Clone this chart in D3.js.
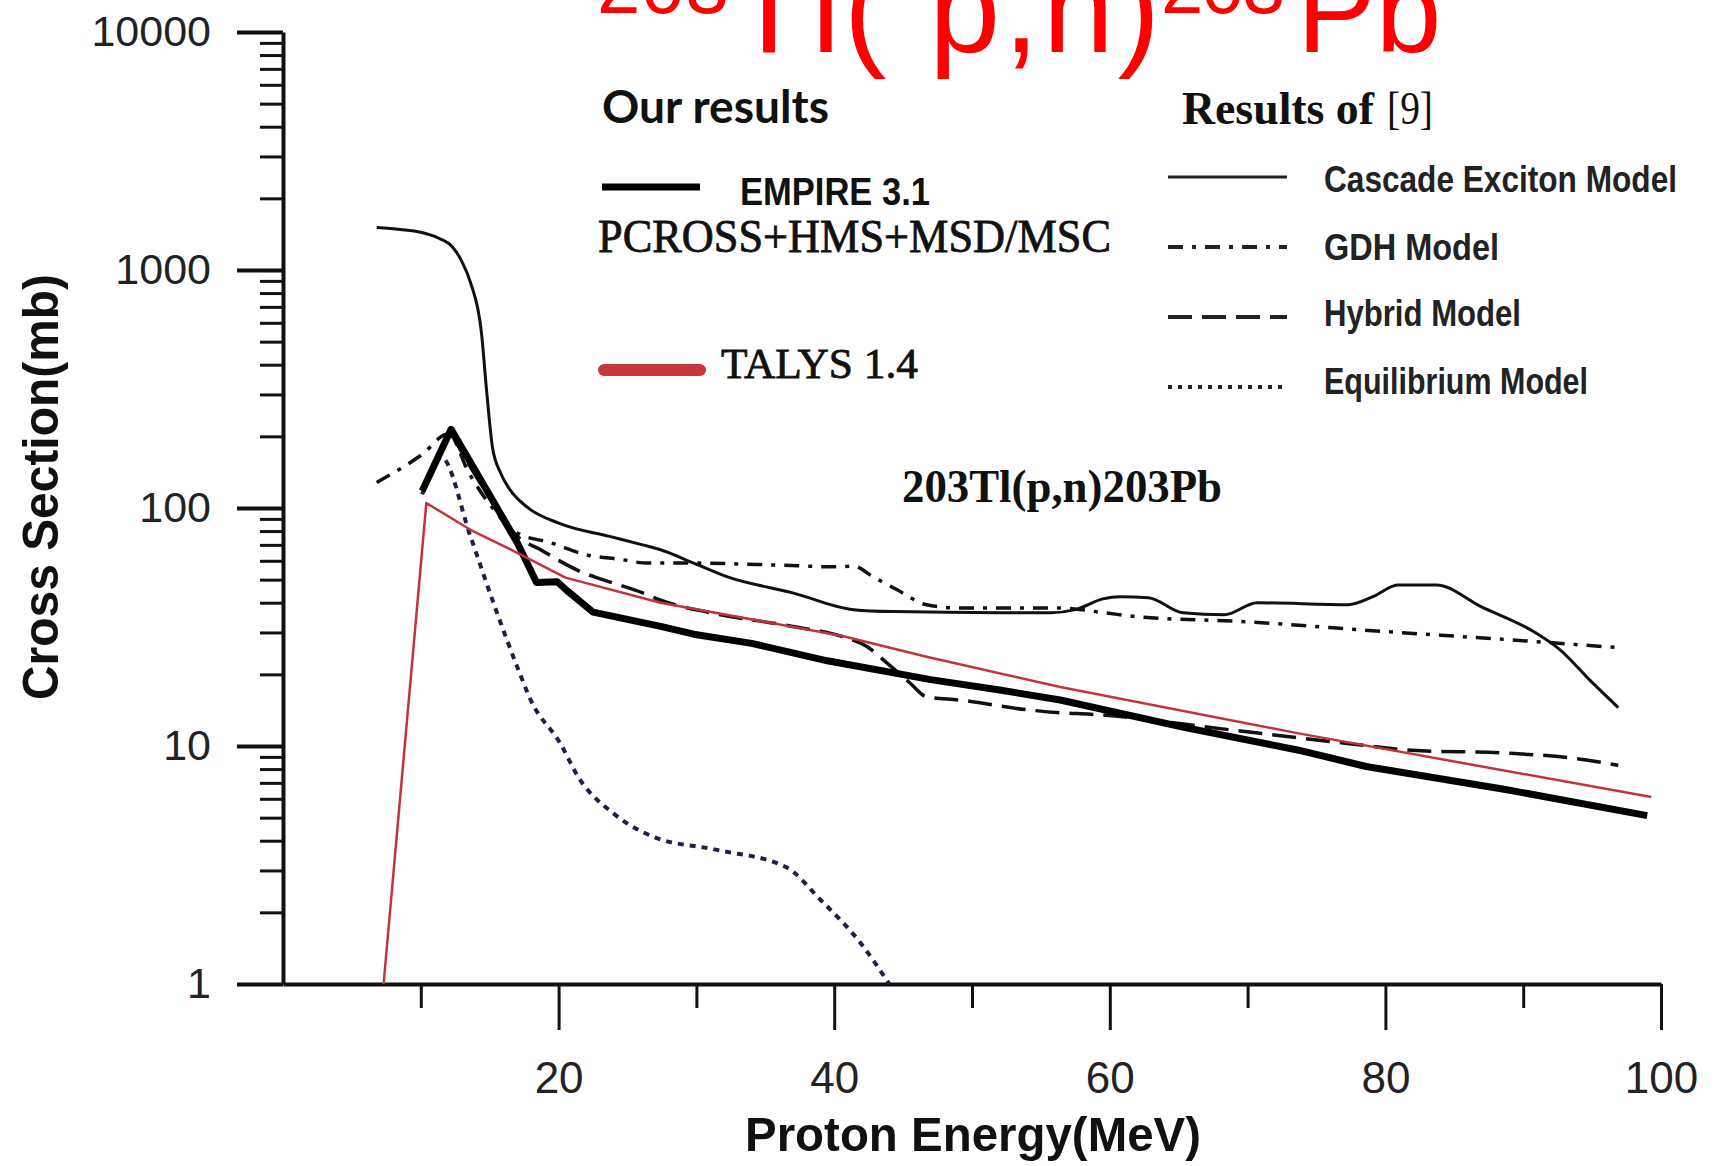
<!DOCTYPE html>
<html><head><meta charset="utf-8">
<script src="https://cdn.jsdelivr.net/npm/d3@7"></script>
<style>body{margin:0;background:#fff} svg{display:block}</style>
</head><body>
<script>
// ---- data (Proton energy MeV, cross section mb) ----
const xTickMajor = [20, 40, 60, 80, 100];
const xTickMinor = [10, 30, 50, 70, 90];
const yTickMajor = [1, 10, 100, 1000, 10000];
const yTickLabels = ["1", "10", "100", "1000", "10000"];

const empireE = [10.1, 12.2, 15.2, 17, 18.4, 19.9, 20.6, 22.5, 27.4, 29.8, 34, 39.5, 47, 52, 56.4, 65.3, 73.7, 78.6, 88.5, 99];
const empireV = [118, 214, 108, 71.5, 48.6, 49, 45, 36.5, 31.8, 29.5, 27, 22.8, 19, 17.2, 15.6, 12.0, 9.6, 8.2, 6.6, 5.1];

const talysE = [7.3, 10.4, 13.6, 16.5, 20.5, 27.4, 40.6, 46.7, 56.4, 73.7, 99.3];
const talysV = [1, 105, 81, 67, 51, 40, 29, 23.7, 17.7, 11.3, 6.1];

const cascadeE = [6.8, 8.5, 10, 11.3, 12.3, 13.0, 13.6, 14.4, 14.8, 15.2, 15.8, 16.4, 17.7, 20.1, 23.7, 26.1, 27.4, 29.8, 32.2, 37, 41.4, 44.3, 52, 55.7, 57.5, 59.5, 60.7, 62.8, 65.3, 68.3, 70.7, 77.3, 79.1, 80.9, 83.7, 86.9, 90.9, 92.7, 94.8, 96.9];
const cascadeV = [1510, 1480, 1440, 1360, 1250, 1080, 888, 546, 300, 180, 140, 121, 101, 86, 76, 70, 66.8, 58.7, 51.5, 44, 37.4, 36.7, 36.3, 36.3, 37.4, 41.5, 42.4, 42, 36.3, 35.6, 40, 39.2, 42.4, 47.5, 47.5, 38.6, 29.9, 25.3, 19, 14.5];

const gdhE = [6.8, 10.1, 12.0, 13.5, 15.2, 17, 19.4, 22, 24.5, 26.4, 29.3, 35.8, 40.1, 41.4, 42.8, 44.6, 46.7, 49.1, 56.4, 59.6, 62, 69.8, 79.8, 88.8, 96.9];
const gdhV = [128, 168, 205, 140, 100, 78.6, 71.5, 63.6, 60.8, 58.7, 58.7, 57.6, 56.6, 57, 51.5, 45.2, 39.2, 38, 38, 36.3, 34.9, 33.3, 30.3, 28, 25.9];

const hybridE = [12.2, 15.2, 17, 18.7, 20.1, 21.6, 23.2, 26.1, 27.4, 31, 37, 40.6, 42.4, 43.8, 45.5, 46.7, 49.1, 54, 56.4, 58.6, 68.7, 76.9, 81.9, 88.8, 93.3, 96.9];
const hybridV = [205, 106, 76, 66.8, 59.8, 54, 50, 44, 41, 36.3, 31.8, 28.8, 26.1, 22.4, 18.4, 16.1, 15.6, 14.2, 13.8, 13.6, 11.7, 10.3, 9.6, 9.33, 8.93, 8.3];

const equilE = [10.1, 11.5, 13.6, 15.2, 17, 18, 20.1, 21.5, 24, 26.9, 31.5, 36.5, 39, 41.9, 44];
const equilV = [114, 163, 76, 41, 21.5, 15.5, 10.3, 7.3, 5.2, 4.15, 3.66, 3.1, 2.26, 1.49, 1.0];

// ---- drawing ----
const W = 1717, H = 1166;
const SANS = "'Liberation Sans', Arial, sans-serif";
const SERIF = "'Liberation Serif', 'Times New Roman', serif";
const svg = d3.select("body").append("svg").attr("width", W).attr("height", H)
  .style("background", "#fff");

const x = d3.scaleLinear().domain([0, 100]).range([283, 1661]);
const y = d3.scaleLog().domain([1, 10000]).range([984, 32]);

const zip = (a, b) => a.map((v, i) => [v, b[i]]);

// Y axis minor ticks
const yMinor = [];
[1, 10, 100, 1000].forEach(d => { for (let k = 2; k <= 9; k++) yMinor.push(d * k); });

const gyMinor = svg.append("g").attr("transform", "translate(283,0)")
  .call(d3.axisLeft(y).tickValues(yMinor).tickSize(23).tickSizeOuter(0).tickFormat(""));
gyMinor.select(".domain").remove();
gyMinor.selectAll("line").attr("stroke", "#111").attr("stroke-width", 3);

const gy = svg.append("g").attr("transform", "translate(283,0)")
  .call(d3.axisLeft(y).tickValues(yTickMajor).tickSize(46).tickSizeOuter(0).tickPadding(26)
    .tickFormat((d, i) => yTickLabels[i]));
gy.select(".domain").attr("stroke", "#111").attr("stroke-width", 4);
gy.selectAll("line").attr("stroke", "#111").attr("stroke-width", 4);
gy.selectAll("text").attr("font-family", SANS).attr("font-size", 43).attr("fill", "#222");

// X axis
const gxMinor = svg.append("g").attr("transform", "translate(0,984)")
  .call(d3.axisBottom(x).tickValues(xTickMinor).tickSize(24).tickSizeOuter(0).tickFormat(""));
gxMinor.select(".domain").remove();
gxMinor.selectAll("line").attr("stroke", "#111").attr("stroke-width", 3);

const gx = svg.append("g").attr("transform", "translate(0,984)")
  .call(d3.axisBottom(x).tickValues(xTickMajor).tickSize(46).tickSizeOuter(0).tickPadding(32));
gx.select(".domain").attr("stroke", "#111").attr("stroke-width", 4);
gx.selectAll("line").attr("stroke", "#111").attr("stroke-width", 3);
gx.selectAll("text").attr("font-family", SANS).attr("font-size", 44).attr("fill", "#222");

// Axis titles
svg.append("text").attr("x", 745).attr("y", 1151)
  .attr("font-family", SANS).attr("font-weight", "bold").attr("font-size", 49)
  .attr("textLength", 456).attr("lengthAdjust", "spacingAndGlyphs").attr("fill", "#111")
  .text("Proton Energy(MeV)");
svg.append("text").attr("transform", "translate(58,700) rotate(-90)")
  .attr("font-family", SANS).attr("font-weight", "bold").attr("font-size", 50)
  .attr("textLength", 426).attr("lengthAdjust", "spacingAndGlyphs").attr("fill", "#111")
  .text("Cross Section(mb)");

// Curves
const line = d3.line().x(d => x(d[0])).y(d => y(d[1]));
const smooth = d3.line().x(d => x(d[0])).y(d => y(d[1])).curve(d3.curveMonotoneX);
const plot = svg.append("g").attr("fill", "none").attr("stroke-linejoin", "round");

plot.append("path").datum(zip(equilE, equilV)).attr("d", smooth)
  .attr("stroke", "#1e1e48").attr("stroke-width", 4).attr("stroke-dasharray", "6,6");
plot.append("path").datum(zip(gdhE, gdhV)).attr("d", smooth)
  .attr("stroke", "#111").attr("stroke-width", 3.5).attr("stroke-dasharray", "15,9,4,9");
plot.append("path").datum(zip(hybridE, hybridV)).attr("d", smooth)
  .attr("stroke", "#111").attr("stroke-width", 3.5).attr("stroke-dasharray", "24,10");
plot.append("path").datum(zip(cascadeE, cascadeV)).attr("d", smooth)
  .attr("stroke", "#111").attr("stroke-width", 3);
plot.append("path").datum(zip(empireE, empireV)).attr("d", line)
  .attr("stroke", "#000").attr("stroke-width", 7);
plot.append("path").datum(zip(talysE, talysV)).attr("d", line)
  .attr("stroke", "#c2343c").attr("stroke-width", 2.5);

// Title (red, partly clipped at top)
const title = svg.append("g").attr("fill", "#ff0000").attr("font-family", SANS);
title.append("text").attr("x", 597).attr("y", 13).attr("font-size", 78)
  .attr("textLength", 132).attr("lengthAdjust", "spacing").text("203");
title.append("text").attr("x", 730).attr("y", 52).attr("font-size", 128)
  .attr("textLength", 430).attr("lengthAdjust", "spacing").text("Tl( p,n)");
title.append("text").attr("x", 1161).attr("y", 13).attr("font-size", 76)
  .attr("textLength", 124).attr("lengthAdjust", "spacing").text("203");
title.append("text").attr("x", 1297).attr("y", 52).attr("font-size", 118).text("Pb");

// Legend: our results
svg.append("text").attr("x", 602).attr("y", 123).attr("font-family", "Lato, 'Open Sans', sans-serif")
  .attr("font-weight", "bold").attr("font-size", 46).attr("textLength", 227)
  .attr("lengthAdjust", "spacingAndGlyphs").attr("fill", "#111").text("Our results");
svg.append("line").attr("x1", 602).attr("x2", 700).attr("y1", 187).attr("y2", 187)
  .attr("stroke", "#000").attr("stroke-width", 7);
svg.append("text").attr("x", 740).attr("y", 205).attr("font-family", SANS)
  .attr("font-weight", "bold").attr("font-size", 38).attr("textLength", 190)
  .attr("lengthAdjust", "spacingAndGlyphs").attr("fill", "#111").text("EMPIRE 3.1");
svg.append("text").attr("x", 598).attr("y", 252).attr("font-family", SERIF)
  .attr("font-size", 46).attr("textLength", 513).attr("lengthAdjust", "spacingAndGlyphs")
  .attr("fill", "#111").attr("stroke", "#111").attr("stroke-width", 0.8)
  .text("PCROSS+HMS+MSD/MSC");
svg.append("line").attr("x1", 604).attr("x2", 700).attr("y1", 370).attr("y2", 370)
  .attr("stroke", "#c6373c").attr("stroke-width", 12).attr("stroke-linecap", "round");
svg.append("text").attr("x", 721).attr("y", 378).attr("font-family", SERIF)
  .attr("font-size", 42).attr("textLength", 197).attr("lengthAdjust", "spacingAndGlyphs")
  .attr("fill", "#111").attr("stroke", "#111").attr("stroke-width", 0.8).text("TALYS 1.4");

// Legend: results of [9]
svg.append("text").attr("x", 1182).attr("y", 124).attr("font-family", SERIF)
  .attr("font-weight", "bold").attr("font-size", 46).attr("fill", "#111")
  .attr("textLength", 192).attr("lengthAdjust", "spacingAndGlyphs").text("Results of");
svg.append("text").attr("x", 1387).attr("y", 124).attr("font-family", SERIF)
  .attr("font-size", 46).attr("fill", "#111")
  .attr("textLength", 46).attr("lengthAdjust", "spacingAndGlyphs").text("[9]");

const legendItems = [
  {label: "Cascade Exciton Model", y: 177, ty: 192, len: 353, dash: null, w: 3},
  {label: "GDH Model", y: 247, ty: 260, len: 175, dash: "15,9,4,9", w: 4},
  {label: "Hybrid Model", y: 317, ty: 326, len: 197, dash: "24,10", w: 4},
  {label: "Equilibrium Model", y: 387, ty: 394, len: 264, dash: "4,6", w: 4}
];
legendItems.forEach(it => {
  const l = svg.append("line").attr("x1", 1168).attr("x2", 1287).attr("y1", it.y).attr("y2", it.y)
    .attr("stroke", "#222").attr("stroke-width", it.w);
  if (it.dash) l.attr("stroke-dasharray", it.dash);
  svg.append("text").attr("x", 1324).attr("y", it.ty).attr("font-family", SANS)
    .attr("font-weight", "bold").attr("font-size", 36).attr("textLength", it.len)
    .attr("lengthAdjust", "spacingAndGlyphs").attr("fill", "#222").text(it.label);
});

// Reaction annotation
svg.append("text").attr("x", 902).attr("y", 502).attr("font-family", SERIF)
  .attr("font-weight", "bold").attr("font-size", 46).attr("textLength", 320)
  .attr("lengthAdjust", "spacingAndGlyphs").attr("fill", "#111").text("203Tl(p,n)203Pb");
</script>
</body></html>
